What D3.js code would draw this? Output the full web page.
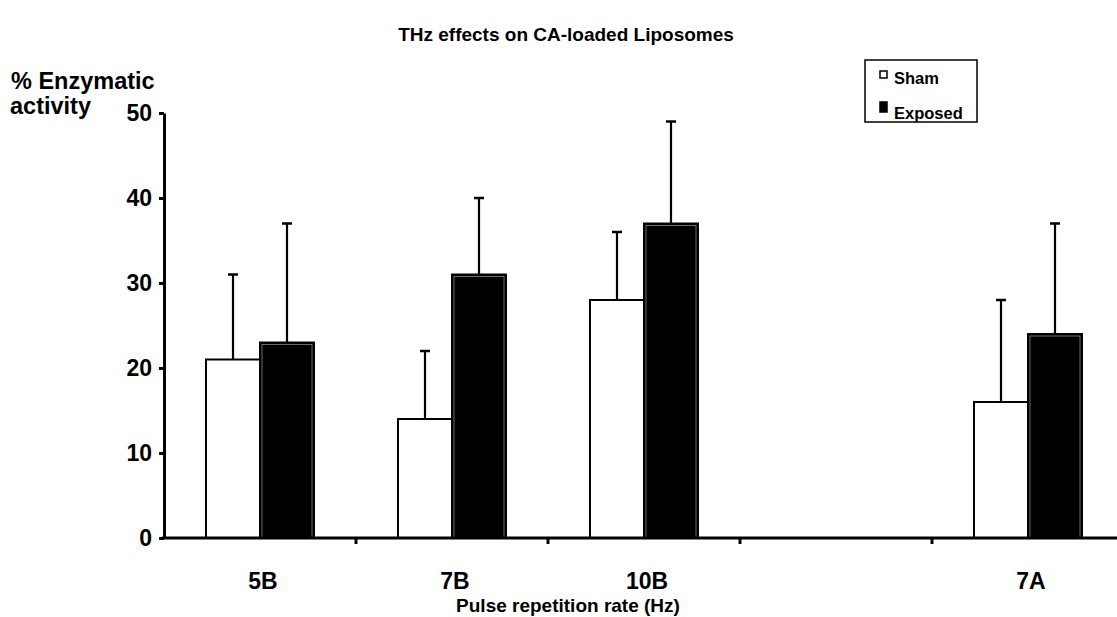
<!DOCTYPE html>
<html>
<head>
<meta charset="utf-8">
<script src="https://cdn.jsdelivr.net/npm/d3@7"></script>
<style>
  body { margin: 0; background: #fff; }
  svg { display: block; font-family: 'Liberation Sans', Arial, sans-serif; font-weight: bold; }
</style>
</head>
<body>
<div id="chart"></div>
<script>
// categories on the x axis (4th slot is an empty gap in the original)
const categories = ['5B', '7B', '10B', '', '7A'];
const series = ['Sham', 'Exposed'];
const shamValues = [21, 14, 28, null, 16];
const shamErrors = [10, 8, 8, null, 12];
const exposedValues = [23, 31, 37, null, 24];
const exposedErrors = [14, 9, 12, null, 13];
const yTicks = [0, 10, 20, 30, 40, 50];

const width = 1117;
const height = 617;
const margin = { top: 113, right: -7, bottom: 79, left: 164 };

const svg = d3.select('#chart')
  .append('svg')
  .attr('width', width)
  .attr('height', height);

// Scales
const x0 = d3.scaleBand()
  .domain(categories)
  .range([margin.left, width - margin.right]);

const groupW = 108;
const x1 = d3.scaleBand()
  .domain(series)
  .range([(x0.bandwidth() - groupW) / 2, (x0.bandwidth() + groupW) / 2]);

const y = d3.scaleLinear()
  .domain([0, 50])
  .range([height - margin.bottom, margin.top]);

// Title
svg.append('text')
  .attr('x', 566)
  .attr('y', 41)
  .attr('text-anchor', 'middle')
  .style('font-size', '19px')
  .text('THz effects on CA-loaded Liposomes');

// Y axis label (two lines, top left)
svg.append('text')
  .attr('x', 11)
  .attr('y', 89)
  .style('font-size', '23.5px')
  .text('% Enzymatic');
svg.append('text')
  .attr('x', 10)
  .attr('y', 114)
  .style('font-size', '23.5px')
  .text('activity');

// Bars
const rows = categories.map((c, i) => ({
  cat: c,
  vals: [
    { key: 'Sham', v: shamValues[i], e: shamErrors[i] },
    { key: 'Exposed', v: exposedValues[i], e: exposedErrors[i] }
  ].filter(d => d.v != null)
}));

const groups = svg.append('g')
  .selectAll('g')
  .data(rows)
  .join('g')
  .attr('transform', d => `translate(${x0(d.cat)},0)`);

// error bars first (bars are drawn over them)
groups.selectAll('.err')
  .data(d => d.vals)
  .join('g')
  .attr('class', 'err')
  .each(function(d) {
    const g = d3.select(this);
    const cx = x1(d.key) + x1.bandwidth() / 2;
    g.append('line')
      .attr('x1', cx).attr('x2', cx)
      .attr('y1', y(d.v)).attr('y2', y(d.v + d.e))
      .style('stroke', '#000')
      .style('stroke-width', 2.2);
    g.append('line')
      .attr('x1', cx - 5).attr('x2', cx + 5)
      .attr('y1', y(d.v + d.e)).attr('y2', y(d.v + d.e))
      .style('stroke', '#000')
      .style('stroke-width', 2.5);
  });

groups.selectAll('rect.bar')
  .data(d => d.vals)
  .join('rect')
  .attr('class', 'bar')
  .attr('x', d => x1(d.key))
  .attr('y', d => y(d.v))
  .attr('width', x1.bandwidth())
  .attr('height', d => y(0) - y(d.v))
  .style('fill', d => d.key === 'Sham' ? '#fff' : '#000')
  .style('stroke', '#000')
  .style('stroke-width', 2);

// thin light inner edge on the black bars
groups.selectAll('rect.inner')
  .data(d => d.vals.filter(v => v.key === 'Exposed'))
  .join('rect')
  .attr('class', 'inner')
  .attr('x', d => x1(d.key) + 2)
  .attr('y', d => y(d.v) + 2)
  .attr('width', x1.bandwidth() - 4)
  .attr('height', d => y(0) - y(d.v) - 2)
  .style('fill', 'none')
  .style('stroke', '#999')
  .style('stroke-width', 0.7);

// Y axis
const yAxis = svg.append('g')
  .attr('transform', `translate(${margin.left},0)`)
  .call(d3.axisLeft(y).tickValues(yTicks).tickSize(5).tickSizeOuter(0).tickPadding(7));
yAxis.select('.domain').style('stroke', '#000').style('stroke-width', 3);
yAxis.selectAll('.tick line').style('stroke', '#000').style('stroke-width', 3);
yAxis.selectAll('.tick text')
  .style('font-size', '23px')
  .style('font-family', "'Liberation Sans', Arial, sans-serif")
  .style('font-weight', 'bold')
  .attr('fill', '#000');

// X axis
const xAxis = svg.append('g')
  .attr('transform', `translate(0,${y(0)})`)
  .call(d3.axisBottom(x0).tickSize(0).tickPadding(35));
xAxis.select('.domain').remove();
xAxis.append('line')
  .attr('x1', margin.left - 2).attr('x2', width)
  .attr('y1', 0).attr('y2', 0)
  .style('stroke', '#000')
  .style('stroke-width', 3);
xAxis.selectAll('.tick text')
  .attr('dx', 3)
  .style('font-size', '23px')
  .style('font-family', "'Liberation Sans', Arial, sans-serif")
  .style('font-weight', 'bold')
  .attr('fill', '#000');

// boundary ticks between categories
xAxis.selectAll('.sep')
  .data(categories.slice(1))
  .join('line')
  .attr('class', 'sep')
  .attr('x1', d => x0(d)).attr('x2', d => x0(d))
  .attr('y1', 0).attr('y2', 6)
  .style('stroke', '#000')
  .style('stroke-width', 3);

// X axis title
svg.append('text')
  .attr('x', 568)
  .attr('y', 612)
  .attr('text-anchor', 'middle')
  .style('font-size', '19px')
  .text('Pulse repetition rate (Hz)');

// Legend
const legend = svg.append('g').attr('transform', 'translate(865,60)');
legend.append('rect')
  .attr('width', 112)
  .attr('height', 62)
  .style('fill', '#fff')
  .style('stroke', '#000')
  .style('stroke-width', 1.5);

const legendRows = legend.selectAll('g.item')
  .data(series)
  .join('g')
  .attr('class', 'item')
  .attr('transform', (d, i) => `translate(15,${11 + i * 31})`);

legendRows.append('rect')
  .attr('width', 7)
  .attr('height', d => d === 'Sham' ? 7 : 10)
  .style('fill', d => d === 'Sham' ? '#fff' : '#000')
  .style('stroke', '#000')
  .style('stroke-width', 1.5);

legendRows.append('text')
  .attr('x', 14)
  .attr('y', d => d === 'Sham' ? 13 : 17)
  .style('font-size', '16.5px')
  .text(d => d);
</script>
</body>
</html>
